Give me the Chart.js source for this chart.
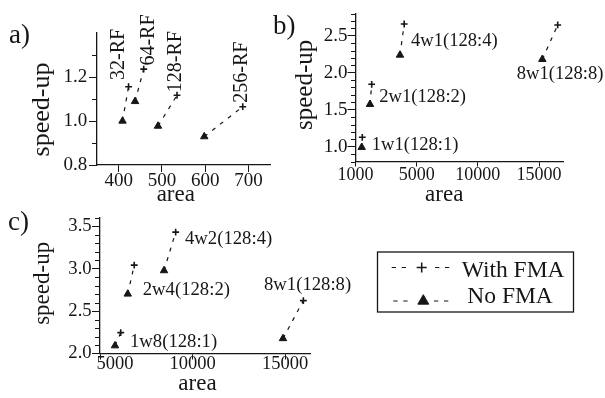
<!DOCTYPE html>
<html>
<head>
<meta charset="utf-8">
<script src="https://cdn.jsdelivr.net/npm/chart.js@4.4.1/dist/chart.umd.min.js"></script>
<style>
html,body{margin:0;padding:0;background:#fff;}
#wrap{position:relative;width:605px;height:398px;overflow:hidden;background:#fff;}
canvas{position:absolute;left:0;top:0;}
</style>
</head>
<body>
<div id="wrap">
<canvas id="ca" width="605" height="398"></canvas>
<canvas id="cb" width="605" height="398"></canvas>
<canvas id="cc" width="605" height="398"></canvas>
</div>
<script>
// ---------------- data ----------------
const xTitle = 'area';
const yTitle = 'speed-up';
const legendLabels = ['With FMA', 'No FMA'];
const panelTags = ['a)', 'b)', 'c)'];

// panel a
const aNames = ['32-RF', '64-RF', '128-RF', '256-RF'];
const aNoFmaArea = [409, 438, 491, 598];
const aNoFmaSpeed = [1.0, 1.089, 0.977, 0.929];
const aFmaArea = [423, 458, 535, 687];
const aFmaSpeed = [1.156, 1.236, 1.117, 1.065];
const aXTicks = [400, 500, 600, 700];
const aXTickLabels = ['400', '500', '600', '700'];
const aYTicks = [0.8, 1.0, 1.2];
const aYTickLabels = ['0.8', '1.0', '1.2'];
const aYMinor = [0.9, 1.1, 1.3];

// panel b
const bNames = ['1w1(128:1)', '2w1(128:2)', '4w1(128:4)', '8w1(128:8)'];
const bNoFmaArea = [507, 1185, 3637, 15268];
const bNoFmaSpeed = [0.992, 1.573, 2.239, 2.181];
const bFmaArea = [556, 1324, 3980, 16526];
const bFmaSpeed = [1.127, 1.843, 2.658, 2.645];
const bXTicks = [0, 5000, 10000, 15000];
const bXTickLabels = ['1000', '5000', '10000', '15000'];
const bYTicks = [1.0, 1.5, 2.0, 2.5];
const bYTickLabels = ['1.0', '1.5', '2.0', '2.5'];
const bYMinor = [0.8, 0.9, 1.1, 1.2, 1.3, 1.4, 1.6, 1.7, 1.8, 1.9, 2.1, 2.2, 2.3, 2.4, 2.6, 2.7, 2.8];

// panel c
const cNames = ['1w8(128:1)', '2w4(128:2)', '4w2(128:4)', '8w1(128:8)'];
const cNoFmaArea = [5810, 6500, 8460, 14890];
const cNoFmaSpeed = [2.092, 2.703, 2.979, 2.177];
const cFmaArea = [6120, 6850, 9090, 15990];
const cFmaSpeed = [2.246, 3.043, 3.433, 2.624];
const cXTicks = [5000, 10000, 15000];
const cXTickLabels = ['5000', '10000', '15000'];
const cYTicks = [2.0, 2.5, 3.0, 3.5];
const cYTickLabels = ['2.0', '2.5', '3.0', '3.5'];
const cYMinor = [2.1, 2.2, 2.3, 2.4, 2.6, 2.7, 2.8, 2.9, 3.1, 3.2, 3.3, 3.4, 3.6];

// ---------------- drawing ----------------
const INK = '#161616';
const SERIF = "'Liberation Serif', 'Times New Roman', serif";

function drawMarker(ctx, style, x, y, r, lw) {
  ctx.save();
  ctx.setLineDash([]);
  ctx.strokeStyle = INK; ctx.fillStyle = INK; ctx.lineWidth = lw;
  ctx.beginPath();
  if (style === 'cross') {
    ctx.moveTo(x - r, y); ctx.lineTo(x + r, y);
    ctx.moveTo(x, y - r); ctx.lineTo(x, y + r);
    ctx.stroke();
  } else {
    ctx.moveTo(x, y - r);
    ctx.lineTo(x + 0.866 * r, y + 0.5 * r);
    ctx.lineTo(x - 0.866 * r, y + 0.5 * r);
    ctx.closePath();
    ctx.fill(); ctx.stroke();
  }
  ctx.restore();
}

function drawLegend(ctx) {
  ctx.save();
  ctx.strokeStyle = INK; ctx.lineWidth = 1.3;
  ctx.setLineDash([]);
  ctx.strokeRect(377.5, 252, 196, 60);
  const rows = [
    {y: 267.5, base: 276.5, tx: 461.7, m: 'cross', mx: 421.7, r: 5, lw: 1.5, segs: [[391.7, 406], [435, 450]]},
    {y: 301, base: 303, tx: 467.3, m: 'triangle', mx: 423.3, r: 6.3, lw: 1, segs: [[393.3, 408], [434, 448.3]]}
  ];
  ctx.font = '23.5px ' + SERIF;
  ctx.fillStyle = INK;
  ctx.textBaseline = 'alphabetic';
  ctx.textAlign = 'left';
  rows.forEach((row, i) => {
    ctx.save();
    ctx.lineWidth = 1.2;
    ctx.setLineDash([4.3, 5.7]);
    row.segs.forEach(s => { ctx.beginPath(); ctx.moveTo(s[0], row.y); ctx.lineTo(s[1], row.y); ctx.stroke(); });
    ctx.restore();
    drawMarker(ctx, row.m, row.mx, row.y, row.r, row.lw);
    ctx.fillText(legendLabels[i], row.tx, row.base);
  });
  ctx.restore();
}

function makePanel(p) {
  const datasets = p.names.map((n, i) => ({
    label: n,
    data: [{x: p.noX[i], y: p.noY[i]}, {x: p.fX[i], y: p.fY[i]}],
    showLine: true,
    clip: false,
    borderColor: INK,
    borderWidth: 1.2,
    borderDash: [4, 6],
    pointStyle: ['triangle', 'cross'],
    pointRadius: [4.3, 3.4],
    pointHoverRadius: [4.3, 3.4],
    pointBorderWidth: [1, 1.6],
    pointBackgroundColor: INK,
    pointBorderColor: INK
  }));
  const L = p.lay;
  const helper = {
    id: 'panelHelper' + p.id,
    beforeDraw(chart) {
      ['x', 'y'].forEach(k => {
        const s = chart.scales[k];
        const sh = p.titleShift[k];
        if (s && !s._shiftPatched) {
          const orig = s.drawTitle;
          s.drawTitle = function () {
            const c = this.ctx; c.save(); c.translate(sh[0], sh[1]); orig.call(this); c.restore();
          };
          s._shiftPatched = true;
        }
      });
      if (p.xLabelShift) {
        const s = chart.scales.x;
        const items = s.getLabelItems(chart.chartArea);
        if (items && !items._shifted) {
          p.xLabelShift.forEach(([idx, dx]) => { if (items[idx]) items[idx].options.translation[0] += dx; });
          items._shifted = true;
        }
      }
    },
    afterDraw(chart) {
      const ctx = chart.ctx;
      const area = chart.chartArea;
      const ys = chart.scales.y;
      // minor ticks on the y axis
      ctx.save();
      ctx.setLineDash([]);
      ctx.fillStyle = INK;
      p.yMinor.forEach(v => {
        const y = Math.round(ys.getPixelForValue(v));
        ctx.fillRect(Math.round(area.left) - 5, y, 5, 1);
      });
      ctx.restore();
      // point labels
      ctx.save();
      ctx.fillStyle = INK;
      ctx.font = p.labelSize + 'px ' + SERIF;
      ctx.textBaseline = 'middle';
      ctx.textAlign = 'left';
      p.names.forEach((t, i) => {
        const el = chart.getDatasetMeta(i).data[p.labelAnchor];
        const off = p.labelOffsets[i];
        ctx.save();
        ctx.translate(el.x + off[0], el.y + off[1]);
        if (p.labelRotate) ctx.rotate(-Math.PI / 2);
        ctx.fillText(t, 0, 0);
        ctx.restore();
      });
      ctx.restore();
      // panel tag
      ctx.save();
      ctx.fillStyle = INK;
      ctx.font = '27px ' + SERIF;
      ctx.textBaseline = 'alphabetic';
      ctx.textAlign = 'left';
      ctx.fillText(p.tag, p.tagPos[0], p.tagPos[1]);
      ctx.restore();
      if (p.legend) drawLegend(ctx);
    }
  };
  return new Chart(document.getElementById(p.id), {
    type: 'scatter',
    data: {datasets},
    options: {
      responsive: false,
      animation: false,
      devicePixelRatio: 1,
      events: [],
      layout: {padding: {left: L.l - L.yW, top: L.t, right: 605 - L.r, bottom: 398 - L.b - L.xH}},
      plugins: {legend: {display: false}, tooltip: {enabled: false}},
      scales: {
        x: {
          type: 'linear', min: p.xMin, max: p.xMax, bounds: 'data',
          afterBuildTicks: s => { s.ticks = p.xTicks.map(v => ({value: v})); },
          afterFit: s => { s.height = L.xH; },
          ticks: {
            callback: (v, i) => p.xTickLabels[i],
            font: {family: SERIF, size: p.xTickSize, lineHeight: 1},
            color: INK, padding: p.xTickPad, maxRotation: 0, autoSkip: false
          },
          grid: {display: true, drawOnChartArea: false, drawTicks: true, tickLength: p.xTL, tickColor: INK, tickWidth: 1},
          border: {display: true, color: INK, width: 1.3},
          title: {display: true, text: xTitle, color: INK,
                  font: {family: SERIF, size: 23, lineHeight: 1}, padding: {top: 0, bottom: p.xTitlePad}}
        },
        y: {
          type: 'linear', min: p.yMin, max: p.yMax, bounds: 'data',
          afterBuildTicks: s => { s.ticks = p.yTicks.map(v => ({value: v})); },
          afterFit: s => { s.width = L.yW; },
          ticks: {
            callback: (v, i) => p.yTickLabels[i],
            font: {family: SERIF, size: p.yTickSize, lineHeight: 1},
            color: INK, padding: p.yTickPad, autoSkip: false
          },
          grid: {display: true, drawOnChartArea: false, drawTicks: true, tickLength: 8, tickColor: INK, tickWidth: 1},
          border: {display: true, color: INK, width: 1.3},
          title: {display: true, text: yTitle, color: INK,
                  font: {family: SERIF, size: p.yTitleSize, lineHeight: 1}, padding: {top: p.yTitlePad, bottom: 0}}
        }
      }
    },
    plugins: [helper]
  });
}

makePanel({
  id: 'ca', tag: panelTags[0], tagPos: [9, 42.5],
  names: aNames, noX: aNoFmaArea, noY: aNoFmaSpeed, fX: aFmaArea, fY: aFmaSpeed,
  xMin: 350, xMax: 750, yMin: 0.8, yMax: 1.4,
  xTicks: aXTicks, xTickLabels: aXTickLabels, yTicks: aYTicks, yTickLabels: aYTickLabels, yMinor: aYMinor,
  lay: {l: 97, t: 33, r: 270, b: 165, yW: 70, xH: 50},
  xTickSize: 19, yTickSize: 19, xTL: 7, xTickPad: 0, yTickPad: 1.7,
  yTitleSize: 26, yTitlePad: 1.7, xTitlePad: 8.5,
  titleShift: {x: [-7.7, 0], y: [0, 10.5]},
  labelSize: 20, labelAnchor: 1, labelRotate: true,
  labelOffsets: [[-10, -6.7], [5, -3.5], [-1.2, -3], [-1.5, -4]]
});

makePanel({
  id: 'cb', tag: panelTags[1], tagPos: [273, 34],
  names: bNames, noX: bNoFmaArea, noY: bNoFmaSpeed, fX: bFmaArea, fY: bFmaSpeed,
  xMin: 0, xMax: 17000, yMin: 0.8, yMax: 2.8,
  xTicks: bXTicks, xTickLabels: bXTickLabels, yTicks: bYTicks, yTickLabels: bYTickLabels, yMinor: bYMinor,
  lay: {l: 355.5, t: 13.5, r: 563.5, b: 161.5, yW: 63.5, xH: 50},
  xTickSize: 18, yTickSize: 19, xTL: 5, xTickPad: 0, yTickPad: 0,
  yTitleSize: 25, yTitlePad: 1.2, xTitlePad: 5.3,
  titleShift: {x: [-15.3, 0], y: [0, -2.6]},
  labelSize: 18.6, labelAnchor: 0, labelRotate: false,
  labelOffsets: [[10, -2.3], [9.3, -7], [11, -14.3], [-25.6, 14.7]]
});

makePanel({
  id: 'cc', tag: panelTags[2], tagPos: [8, 229.5],
  names: cNames, noX: cNoFmaArea, noY: cNoFmaSpeed, fX: cFmaArea, fY: cFmaSpeed,
  xMin: 5000, xMax: 16350, yMin: 2.0, yMax: 3.6,
  xTicks: cXTicks, xTickLabels: cXTickLabels, yTicks: cYTicks, yTickLabels: cYTickLabels, yMinor: cYMinor,
  xLabelShift: [[0, 15]],
  lay: {l: 100, t: 218, r: 310, b: 353.5, yW: 70, xH: 44.5},
  xTickSize: 18.5, yTickSize: 18.7, xTL: 6, xTickPad: -4.5, yTickPad: 0.3,
  yTitleSize: 23, yTitlePad: 1.2, xTitlePad: 2.3,
  titleShift: {x: [-7.5, 0], y: [0, -2.4]},
  labelSize: 18.7, labelAnchor: 0, labelRotate: false,
  labelOffsets: [[15, -4], [15, -4], [21, -31.4], [-19, -53.5]],
  legend: true
});
</script>
</body>
</html>
